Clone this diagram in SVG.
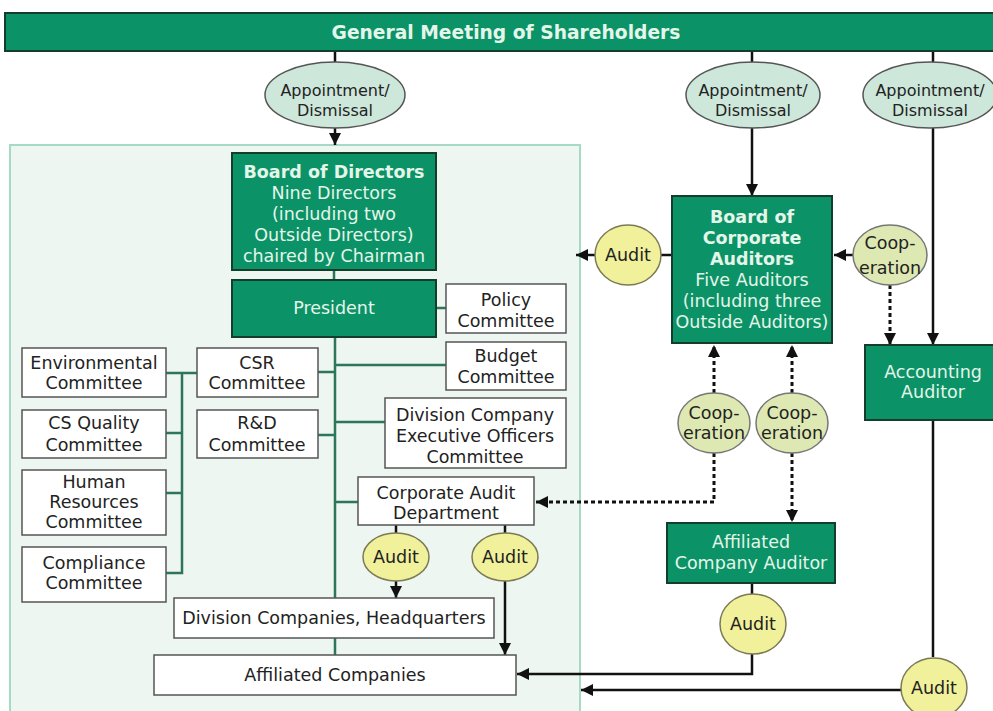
<svg xmlns="http://www.w3.org/2000/svg" width="993" height="711" viewBox="0 0 993 711">
<style>
text{font-family:"DejaVu Sans","Liberation Sans",sans-serif;font-size:17.5px;text-anchor:middle}
.g rect{fill:#0c9267;stroke:#143d2c;stroke-width:2}
.g text{fill:#e4f6ea}
.w rect{fill:#ffffff;stroke:#555;stroke-width:1.5}
.w text{fill:#222}
.b{font-weight:bold}
.t{font-size:18.7px}
.ap ellipse{fill:#cde7da;stroke:#555;stroke-width:1.5}
.ap text{fill:#222;font-size:16px}
.au ellipse{fill:#f1f19b;stroke:#7a7a55;stroke-width:1.5}
.au text{fill:#222}
.co ellipse{fill:#dde8b2;stroke:#777;stroke-width:1.5}
.co text{fill:#222}
.gl{stroke:#2d7657;stroke-width:2.5;fill:none}
.bl{stroke:#111;stroke-width:2.5;fill:none}
.dl{stroke:#111;stroke-width:3;fill:none;stroke-dasharray:4 3}
</style>
<defs>
<marker id="ah" viewBox="0 0 10 10" refX="10" refY="5" markerWidth="12" markerHeight="12" markerUnits="userSpaceOnUse" orient="auto"><path d="M0,0 L10,5 L0,10 z" fill="#111"/></marker>
</defs>
<rect x="0" y="0" width="993" height="711" fill="#ffffff"/>
<rect id="region" x="10" y="145" width="570" height="590" fill="#edf6f0" stroke="#a6d9c6" stroke-width="2"/>

<g id="connectors">
<path class="gl" d="M334,270 V280 M436,308 H446 M335,337 V655 M335,365 H446 M318,372 H335 M318,435 H335 M335,422 H385 M335,502 H358"/>
<path class="gl" d="M166,373 H197 M182,373 V573 H166 M166,433 H182 M166,493 H182"/>
<path class="bl" d="M335,51 V62 M752,51 V62 M933,51 V62"/>
<path class="bl" d="M335,128 V145" marker-end="url(#ah)"/>
<path class="bl" d="M752,128 V196" marker-end="url(#ah)"/>
<path class="bl" d="M933,128 V345" marker-end="url(#ah)"/>
<path class="bl" d="M672,255 H661"/>
<path class="bl" d="M595,255 H576" marker-end="url(#ah)"/>
<path class="bl" d="M853,255 H834" marker-end="url(#ah)"/>
<path class="bl" d="M396,525 V533 M505,525 V533"/>
<path class="bl" d="M396,581 V598" marker-end="url(#ah)"/>
<path class="bl" d="M505,581 V655" marker-end="url(#ah)"/>
<path class="bl" d="M752,583 V594"/>
<path class="bl" d="M752,654 V674 H517" marker-end="url(#ah)"/>
<path class="bl" d="M933,420 V657"/>
<path class="bl" d="M901,690 H581" marker-end="url(#ah)"/>
<path class="dl" d="M890,285 V345" marker-end="url(#ah)"/>
<path class="dl" d="M714,393 V345" marker-end="url(#ah)"/>
<path class="dl" d="M792,393 V345" marker-end="url(#ah)"/>
<path class="dl" d="M714,453 V502 H536" marker-end="url(#ah)"/>
<path class="dl" d="M792,453 V522" marker-end="url(#ah)"/>
</g>

<g id="gms" class="g"><rect x="5" y="13" width="995" height="38"/><text class="b t" x="506" y="39">General Meeting of Shareholders</text></g>

<g id="appt1" class="ap"><ellipse cx="335" cy="95" rx="70" ry="33"/><text x="335" y="96">Appointment/</text><text x="335" y="116">Dismissal</text></g>
<g id="appt2" class="ap"><ellipse cx="753" cy="95" rx="67" ry="33"/><text x="753" y="96">Appointment/</text><text x="753" y="116">Dismissal</text></g>
<g id="appt3" class="ap"><ellipse cx="930" cy="95" rx="67" ry="33"/><text x="930" y="96">Appointment/</text><text x="930" y="116">Dismissal</text></g>

<g id="bod" class="g"><rect x="232" y="153" width="204" height="117"/>
<text class="b" x="334" y="178">Board of Directors</text>
<text x="334" y="199">Nine Directors</text><text x="334" y="220">(including two</text><text x="334" y="241">Outside Directors)</text><text x="334" y="262">chaired by Chairman</text></g>
<g id="president" class="g"><rect x="232" y="280" width="204" height="57"/><text x="334" y="314">President</text></g>
<g id="policy" class="w"><rect x="446" y="284" width="120" height="49"/><text x="506" y="306">Policy</text><text x="506" y="327">Committee</text></g>
<g id="budget" class="w"><rect x="446" y="342" width="120" height="48"/><text x="506" y="362">Budget</text><text x="506" y="383">Committee</text></g>
<g id="env" class="w"><rect x="22" y="348" width="144" height="49"/><text x="94" y="369">Environmental</text><text x="94" y="389">Committee</text></g>
<g id="csr" class="w"><rect x="197" y="348" width="121" height="49"/><text x="257" y="369">CSR</text><text x="257" y="389">Committee</text></g>
<g id="csq" class="w"><rect x="22" y="410" width="144" height="48"/><text x="94" y="429">CS Quality</text><text x="94" y="451">Committee</text></g>
<g id="rd" class="w"><rect x="197" y="410" width="121" height="48"/><text x="257" y="429">R&amp;D</text><text x="257" y="451">Committee</text></g>
<g id="divexec" class="w"><rect x="385" y="398" width="181" height="70"/><text x="475" y="421">Division Company</text><text x="475" y="442">Executive Officers</text><text x="475" y="463">Committee</text></g>
<g id="hr" class="w"><rect x="22" y="470" width="144" height="65"/><text x="94" y="488">Human</text><text x="94" y="508">Resources</text><text x="94" y="528">Committee</text></g>
<g id="cad" class="w"><rect x="358" y="477" width="176" height="48"/><text x="446" y="499">Corporate Audit</text><text x="446" y="519">Department</text></g>
<g id="compliance" class="w"><rect x="22" y="547" width="144" height="55"/><text x="94" y="569">Compliance</text><text x="94" y="589">Committee</text></g>
<g id="audit1" class="au"><ellipse cx="396" cy="557" rx="33" ry="24"/><text x="396" y="563">Audit</text></g>
<g id="audit2" class="au"><ellipse cx="505" cy="557" rx="33" ry="24"/><text x="505" y="563">Audit</text></g>
<g id="divco" class="w"><rect x="174" y="598" width="320" height="40"/><text x="334" y="624">Division Companies, Headquarters</text></g>
<g id="affco" class="w"><rect x="154" y="655" width="362" height="40"/><text x="335" y="681">Affiliated Companies</text></g>

<g id="audit3" class="au"><ellipse cx="628" cy="255" rx="33" ry="30"/><text x="628" y="261">Audit</text></g>
<g id="bca" class="g"><rect x="672" y="196" width="160" height="147"/>
<text class="b" x="752" y="223">Board of</text><text class="b" x="752" y="244">Corporate</text><text class="b" x="752" y="265">Auditors</text>
<text x="752" y="286">Five Auditors</text><text x="752" y="307">(including three</text><text x="752" y="328">Outside Auditors)</text></g>
<g id="coop1" class="co"><ellipse cx="890" cy="255" rx="37" ry="30"/><text x="890" y="249">Coop-</text><text x="890" y="274">eration</text></g>
<g id="accaud" class="g"><rect x="865" y="345" width="135" height="75"/><text x="933" y="378">Accounting</text><text x="933" y="398">Auditor</text></g>
<g id="coop2" class="co"><ellipse cx="714" cy="423" rx="36" ry="30"/><text x="714" y="419">Coop-</text><text x="714" y="439">eration</text></g>
<g id="coop3" class="co"><ellipse cx="792" cy="423" rx="36" ry="30"/><text x="792" y="419">Coop-</text><text x="792" y="439">eration</text></g>
<g id="affaud" class="g"><rect x="667" y="523" width="168" height="60"/><text x="751" y="548">Affiliated</text><text x="751" y="569">Company Auditor</text></g>
<g id="audit4" class="au"><ellipse cx="753" cy="624" rx="33" ry="30"/><text x="753" y="630">Audit</text></g>
<g id="audit5" class="au"><ellipse cx="934" cy="688" rx="33" ry="30"/><text x="934" y="694">Audit</text></g>
</svg>
